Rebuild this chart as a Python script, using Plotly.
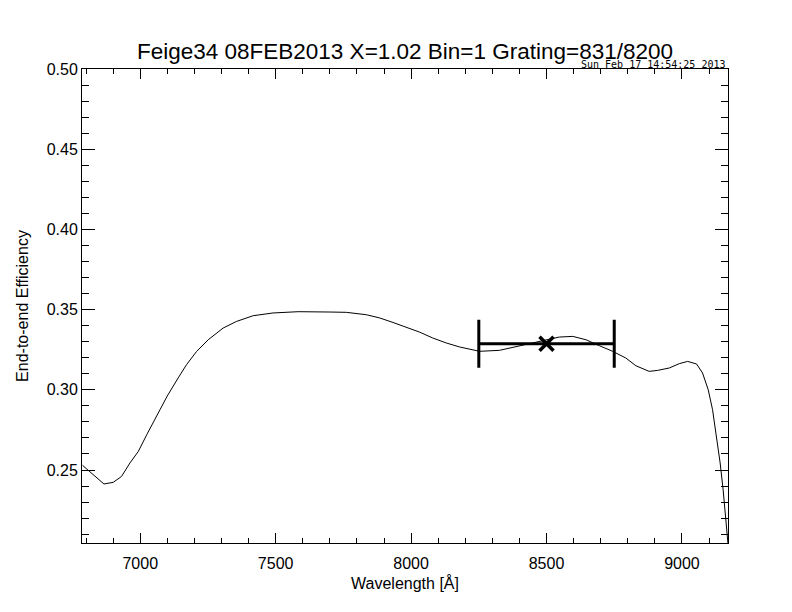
import plotly.graph_objects as go

TITLE = 'Feige34 08FEB2013 X=1.02 Bin=1 Grating=831/8200'
STAMP = 'Sun Feb 17 14:54:25 2013'

wavelength = [6787, 6866, 6900, 6931, 6962, 6993, 7024, 7048, 7073, 7100,
	7116, 7140, 7171, 7208, 7251, 7306, 7355, 7417, 7490, 7583,
	7700, 7761, 7835, 7884, 7933, 7982, 8031, 8080, 8130, 8179,
	8253, 8326, 8400, 8474, 8547, 8597, 8646, 8695, 8744, 8793,
	8830, 8879, 8910, 8953, 8990, 9021, 9054, 9076, 9097, 9113,
	9128, 9141, 9152, 9162, 9167, 9170]
efficiency = [0.2529, 0.2413, 0.2423, 0.2460, 0.2544, 0.2616, 0.2720, 0.2793, 0.2876, 0.2962,
	0.3010, 0.3074, 0.3157, 0.3239, 0.3312, 0.3385, 0.3426, 0.3462, 0.3479, 0.3487,
	0.3485, 0.3483, 0.3468, 0.3448, 0.3420, 0.3392, 0.3360, 0.3323, 0.3292, 0.3267,
	0.3240, 0.3246, 0.3275, 0.3302, 0.3329, 0.3333, 0.3312, 0.3275, 0.3240, 0.3198,
	0.3150, 0.3115, 0.3121, 0.3136, 0.3163, 0.3177, 0.3161, 0.3105, 0.3000, 0.2876,
	0.2709, 0.2544, 0.2377, 0.2190, 0.2107, 0.2040]

# mean efficiency over the grating band
band_center = [8500]
band_mean = [0.3287]
band_halfwidth = [250]

FONT = 'Liberation Sans, Arial, sans-serif'

fig = go.Figure()
fig.add_trace(go.Scatter(
	x=wavelength, y=efficiency, mode='lines',
	line=dict(color='black', width=1),
	hoverinfo='skip'
))
fig.add_trace(go.Scatter(
	x=band_center, y=band_mean, mode='markers',
	marker=dict(symbol='x-thin', size=14, line=dict(color='black', width=3.5)),
	error_x=dict(type='data', array=band_halfwidth, color='black', thickness=3, width=24),
))

axis_common = dict(
	showline=True, linecolor='black', linewidth=1, mirror='allticks',
	ticks='inside', tickcolor='black', showgrid=False, zeroline=False,
	tickfont=dict(family=FONT, size=16, color='black'),
)
fig.update_xaxes(
	range=[6785, 9170], dtick=500, tick0=7000, ticklen=10, ticklabelstandoff=6,
	minor=dict(dtick=100, ticklen=5, ticks='inside', tickcolor='black', showgrid=False),
	title=dict(text='Wavelength [Å]', font=dict(family=FONT, size=16, color='black'), standoff=6),
	**axis_common
)
fig.update_yaxes(
	range=[0.2045, 0.5], dtick=0.05, tick0=0.25, ticklen=13, tickformat='.2f',
	minor=dict(dtick=0.01, ticklen=7, ticks='inside', tickcolor='black', showgrid=False),
	title=dict(text='End-to-end Efficiency', font=dict(family=FONT, size=16, color='black'), standoff=14),
	**axis_common
)
# page body adds an 8px margin, so the figure is a bit smaller than the window
fig.update_layout(
	width=784, height=604,
	margin=dict(l=74, r=64, t=61, b=69),
	paper_bgcolor='white', plot_bgcolor='white',
	showlegend=False,
	title=dict(text=TITLE, x=0.5, xref='paper', y=1, yref='paper', yanchor='bottom', pad=dict(b=10),
		font=dict(family=FONT, size=22.5, color='black')),
	annotations=[dict(text=STAMP, xref='paper', yref='paper', x=1, y=1, xanchor='right', yanchor='bottom',
		showarrow=False, font=dict(family='DejaVu Sans Mono, monospace', size=10, color='black'), yshift=-3)],
)
fig.write_html('out.html')
